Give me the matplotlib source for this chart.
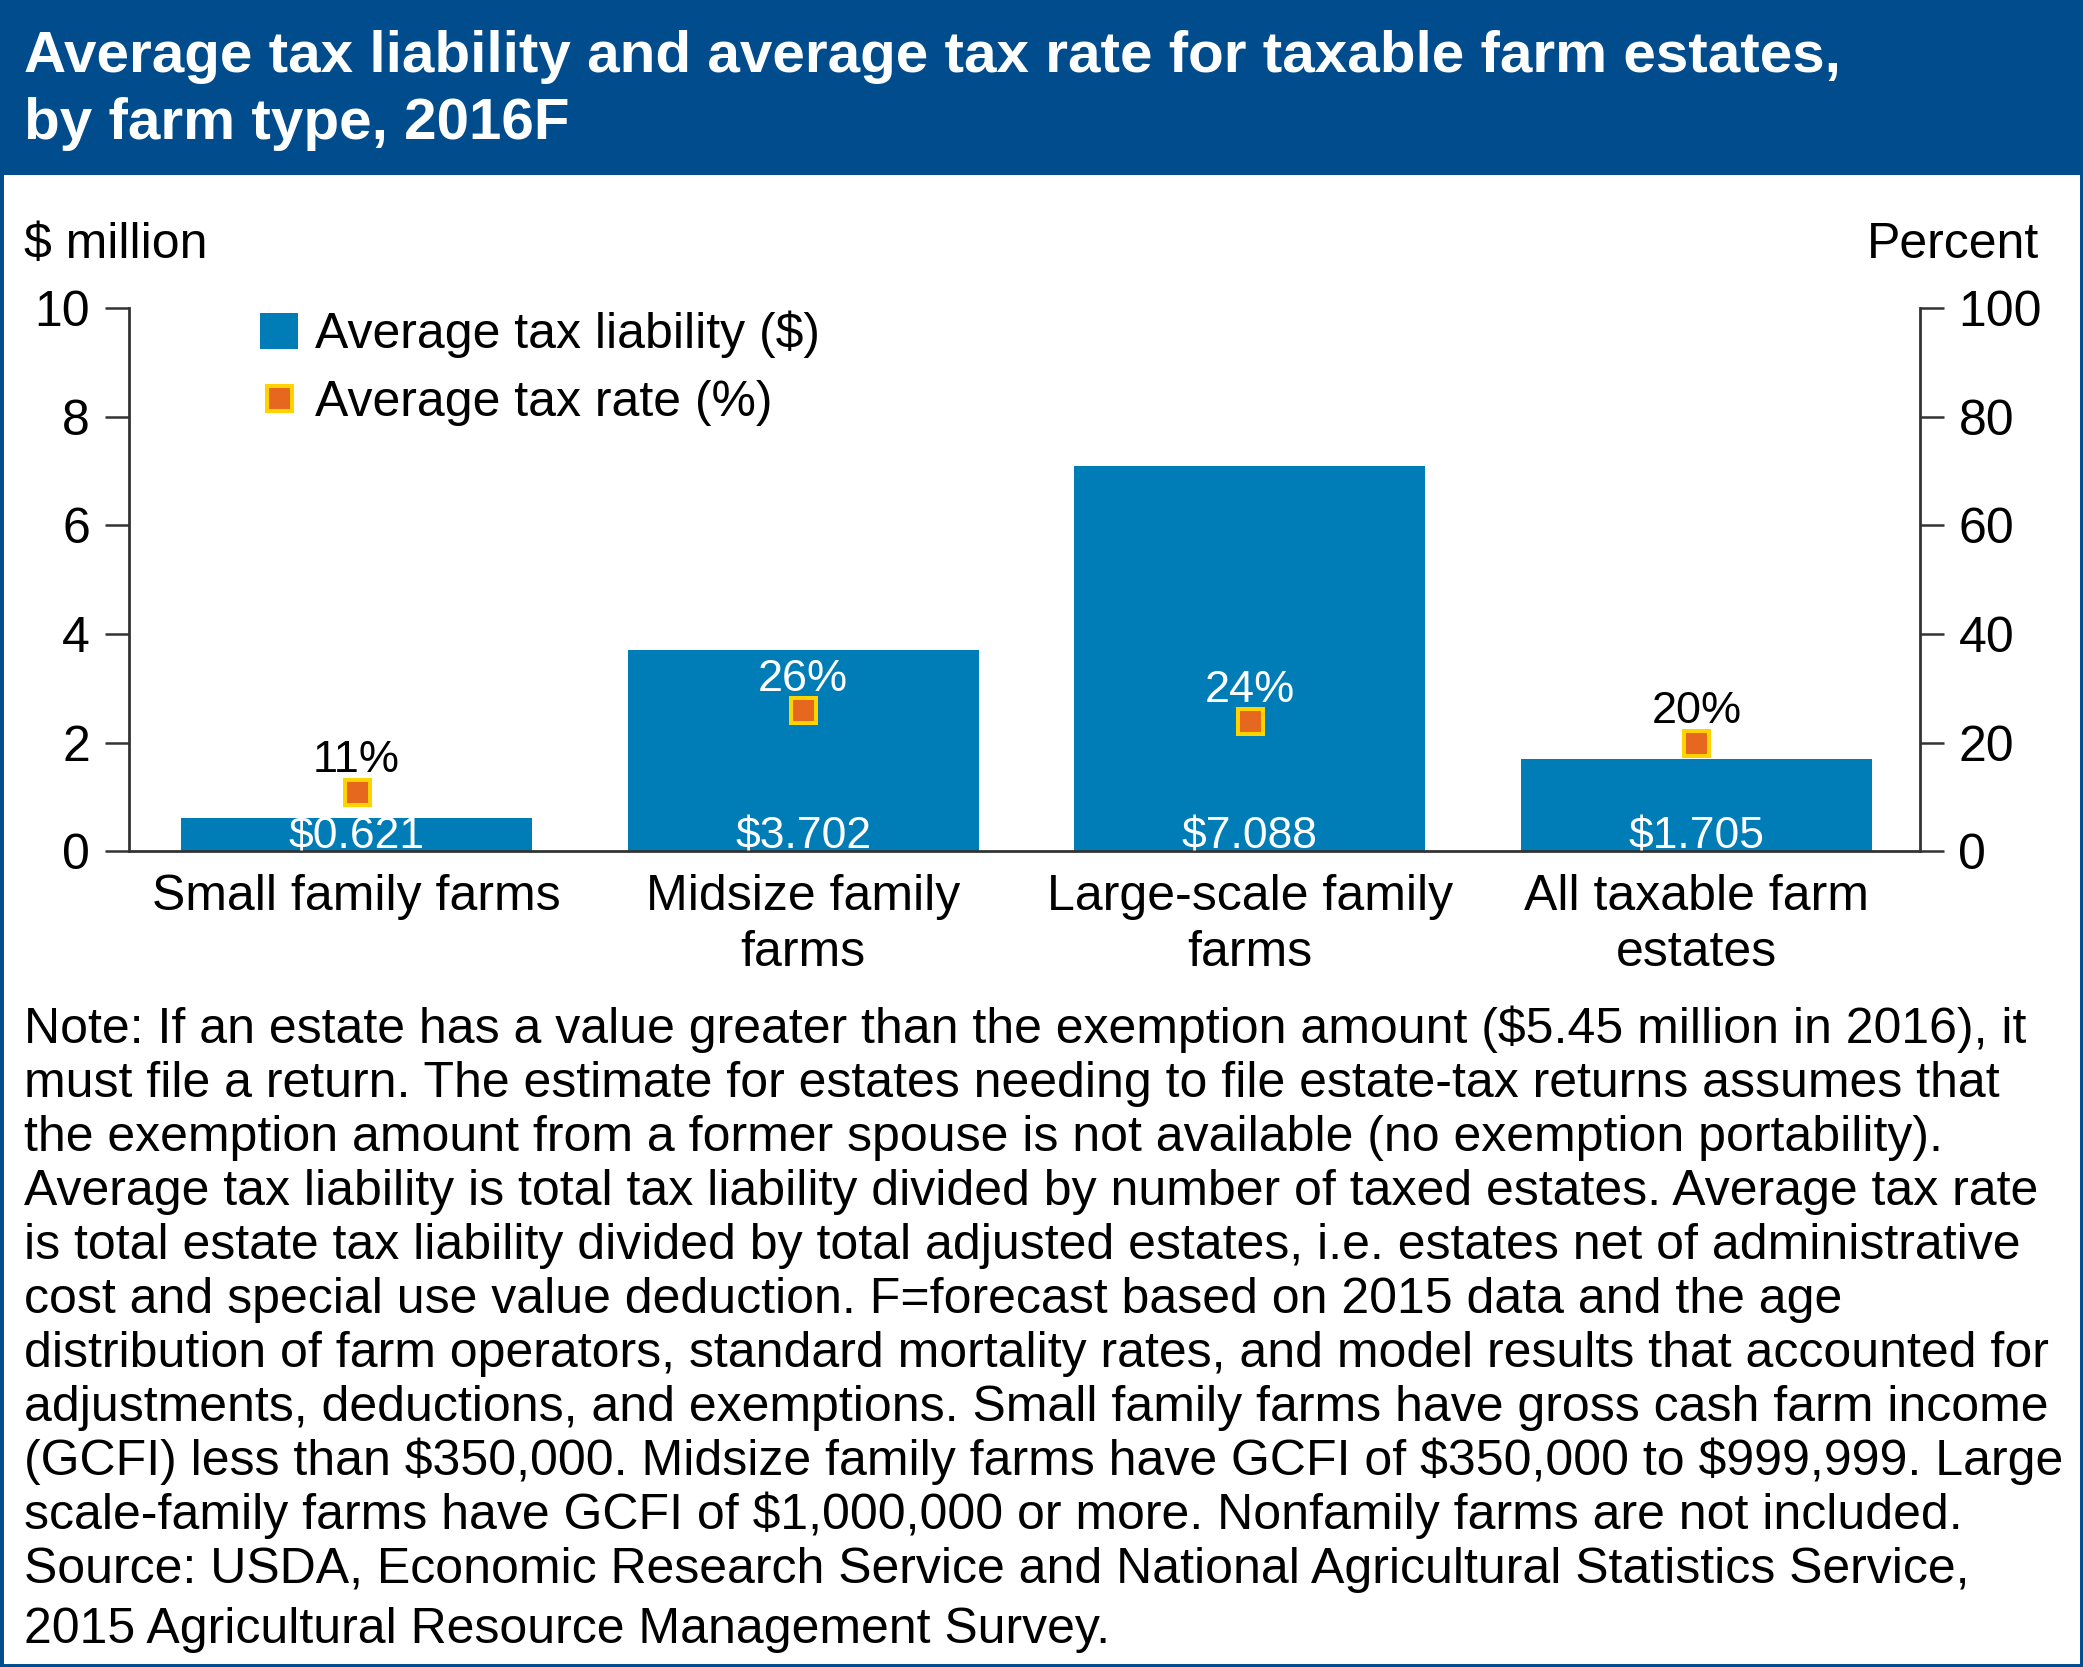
import matplotlib
matplotlib.use('Agg')
import matplotlib.pyplot as plt
from matplotlib.patches import Rectangle, Patch
from matplotlib.lines import Line2D

plt.rcParams['font.family'] = ['Liberation Sans', 'DejaVu Sans']
plt.rcParams['text.parse_math'] = False   # lots of "$" in the texts

# ---- data ----
categories = ['Small family farms', 'Midsize family\nfarms',
              'Large-scale family\nfarms', 'All taxable farm\nestates']
liability = [0.621, 3.702, 7.088, 1.705]      # $ million
tax_rate = [11, 26, 24, 20]                   # percent
liab_labels = ['$0.621', '$3.702', '$7.088', '$1.705']
rate_labels = ['11%', '26%', '24%', '20%']
left_ticks = [0, 2, 4, 6, 8, 10]
right_ticks = [0, 20, 40, 60, 80, 100]

title_lines = ['Average tax liability and average tax rate for taxable farm estates,',
               'by farm type, 2016F']
note_lines = [
    'Note: If an estate has a value greater than the exemption amount ($5.45 million in 2016), it',
    'must file a return. The estimate for estates needing to file estate-tax returns assumes that',
    'the exemption amount from a former spouse is not available (no exemption portability).',
    'Average tax liability is total tax liability divided by number of taxed estates. Average tax rate',
    'is total estate tax liability divided by total adjusted estates, i.e. estates net of administrative',
    'cost and special use value deduction. F=forecast based on 2015 data and the age',
    'distribution of farm operators, standard mortality rates, and model results that accounted for',
    'adjustments, deductions, and exemptions. Small family farms have gross cash farm income',
    '(GCFI) less than $350,000. Midsize family farms have GCFI of $350,000 to $999,999. Large',
    'scale-family farms have GCFI of $1,000,000 or more. Nonfamily farms are not included.',
    'Source: USDA, Economic Research Service and National Agricultural Statistics Service,',
    '2015 Agricultural Resource Management Survey.',
]

HDR = '#004C8C'
BAR = '#007DB7'
ORANGE = '#E5681E'
YELLOW = '#FFD200'
AXC = '#333333'

# layout was measured on a 1568x1255 grid
W, H = 1568, 1255
def fx(x): return x / W
def fy(y): return 1 - y / H

fig = plt.figure(figsize=(20.83, 16.67), dpi=100)
fig.add_artist(Rectangle((0, fy(132)), 1, 132 / H, transform=fig.transFigure,
                         facecolor=HDR, edgecolor='none', zorder=0))
fig.add_artist(Rectangle((0, 0), 1, 1, transform=fig.transFigure, fill=False,
                         edgecolor=HDR, linewidth=5, zorder=10))

for i, t in enumerate(title_lines):
    fig.text(fx(18), fy(54 + i * 51), t, color='white', fontsize=42,
             fontweight='bold', va='baseline')

ax = fig.add_axes([fx(97), fy(641), fx(1445) - fx(97), fy(232) - fy(641)])
x = range(len(categories))
ax.bar(x, liability, width=0.786, color=BAR, zorder=2)
ax.set_xlim(-0.51, 3.5)
ax.set_ylim(0, 10)
ax.set_yticks(left_ticks)
ax.set_xticks(list(x))
ax.set_xticklabels(categories, fontsize=36, linespacing=1.28)
ax.tick_params(axis='x', length=0, pad=16)
ax.tick_params(axis='y', labelsize=36, length=17, width=1.8, color=AXC,
               direction='out', pad=11)
for s in ['top', 'right']:
    ax.spines[s].set_visible(False)
for s in ['left', 'bottom']:
    ax.spines[s].set_color(AXC)
    ax.spines[s].set_linewidth(2)

for i, lbl in enumerate(liab_labels):
    ax.text(i, 0.05, lbl, ha='center', va='baseline', color='white',
            fontsize=32, zorder=3)

ax2 = ax.twinx()
ax2.set_ylim(0, 100)
ax2.set_yticks(right_ticks)
ax2.tick_params(axis='y', labelsize=36, length=17, width=1.8, color=AXC,
                direction='out', pad=11)
for s in ['top', 'left', 'bottom']:
    ax2.spines[s].set_visible(False)
ax2.spines['right'].set_color(AXC)
ax2.spines['right'].set_linewidth(2)

ax2.plot(list(x), tax_rate, linestyle='none', marker='s', ms=18,
         mfc=ORANGE, mec=YELLOW, mew=2.9, zorder=4)
for i, (r, lbl) in enumerate(zip(tax_rate, rate_labels)):
    inside = r / 10 < liability[i]
    ax2.annotate(lbl, (i, r), xytext=(0, 14), textcoords='offset points',
                 ha='center', va='baseline', fontsize=32.5,
                 color='white' if inside else 'black')

handles = [Patch(facecolor=BAR, edgecolor='none'),
           Line2D([], [], linestyle='none', marker='s', ms=18,
                  mfc=ORANGE, mec=YELLOW, mew=2.9)]
ax2.legend(handles, ['Average tax liability ($)', 'Average tax rate (%)'],
           loc='upper left', bbox_to_anchor=(fx(196), fy(234)),
           bbox_transform=fig.transFigure, frameon=False, fontsize=36,
           borderpad=0, borderaxespad=0, handlelength=0.75, handleheight=0.75,
           handletextpad=0.35, labelspacing=0.43)

fig.text(fx(18), fy(194), '$ million', fontsize=36, va='baseline')
fig.text(fx(1535), fy(194), 'Percent', fontsize=36, va='baseline', ha='right')

for i, line in enumerate(note_lines):
    yc = 773 + i * 40.7 if i < 11 else 1225
    fig.text(fx(18), fy(yc + 12), line, fontsize=36, va='baseline')

fig.savefig('out.png', dpi=100)
